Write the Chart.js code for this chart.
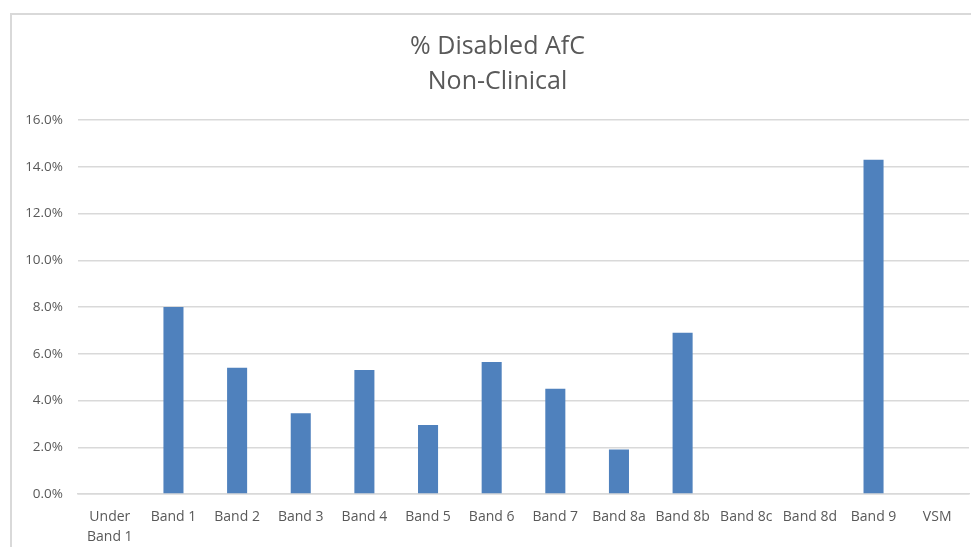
<!DOCTYPE html>
<html>
<head>
<meta charset="utf-8">
<script src="https://cdn.jsdelivr.net/npm/chart.js@4/dist/chart.umd.min.js"></script>
<style>
  html, body { margin: 0; padding: 0; background: #ffffff; }
  #wrap { position: relative; width: 971px; height: 547px; overflow: hidden; }
  #frame { position: absolute; left: 10px; top: 13px; width: 980px; height: 560px;
           border-left: 2px solid #d9d9d9; border-top: 2px solid #d9d9d9; box-sizing: border-box; }
  #c { position: absolute; left: 0; top: 0; }
</style>
</head>
<body>
<div id="wrap">
  <div id="frame"></div>
  <canvas id="c" width="971" height="547"></canvas>
</div>
<script>
// Pay bands (x axis)
const bands = [['Under', 'Band 1'], 'Band 1', 'Band 2', 'Band 3', 'Band 4', 'Band 5', 'Band 6',
               'Band 7', 'Band 8a', 'Band 8b', 'Band 8c', 'Band 8d', 'Band 9', 'VSM'];
// Share of staff declaring a disability, percent
const disabledPct = [0, 8.0, 5.4, 3.45, 5.3, 2.95, 5.65, 4.5, 1.9, 6.9, 0, 0, 14.3, 0];
// Y axis range and step, percent
const yTicks = { min: 0, max: 16, step: 2 };
const titleLines = ['% Disabled AfC', 'Non-Clinical'];

const textGrey = '#595959';
const fontFamily = "'Open Sans', 'Liberation Sans', sans-serif";

new Chart(document.getElementById('c'), {
  type: 'bar',
  data: {
    labels: bands,
    datasets: [{
      data: disabledPct,
      backgroundColor: '#4f81bd',
      borderWidth: 0,
      categoryPercentage: 1.0,
      barPercentage: 0.315
    }]
  },
  options: {
    responsive: false,
    animation: false,
    layout: { padding: { left: 26, right: 2, top: 0, bottom: 0 } },
    plugins: {
      legend: { display: false },
      tooltip: { enabled: false },
      title: {
        display: true,
        text: titleLines,
        color: textGrey,
        font: { family: fontFamily, size: 25, weight: 'normal', lineHeight: 1.38 },
        padding: { top: 30, bottom: 21 }
      }
    },
    scales: {
      x: {
        grid: { display: false },
        border: { color: '#d9d9d9', width: 1.5 },
        ticks: {
          color: textGrey,
          font: { family: fontFamily, size: 14, lineHeight: 1.43 },
          maxRotation: 0,
          autoSkip: false,
          padding: 5
        },
        afterFit(scale) { scale.height = 53; }
      },
      y: {
        min: yTicks.min,
        max: yTicks.max,
        grid: { color: '#d9d9d9', lineWidth: 1.5, drawTicks: false },
        border: { display: false },
        ticks: {
          stepSize: yTicks.step,
          color: textGrey,
          font: { family: fontFamily, size: 13.5 },
          padding: 15,
          callback: v => v.toFixed(1) + '%'
        },
        afterFit(scale) { scale.width = 52; }
      }
    }
  }
});
</script>
</body>
</html>
